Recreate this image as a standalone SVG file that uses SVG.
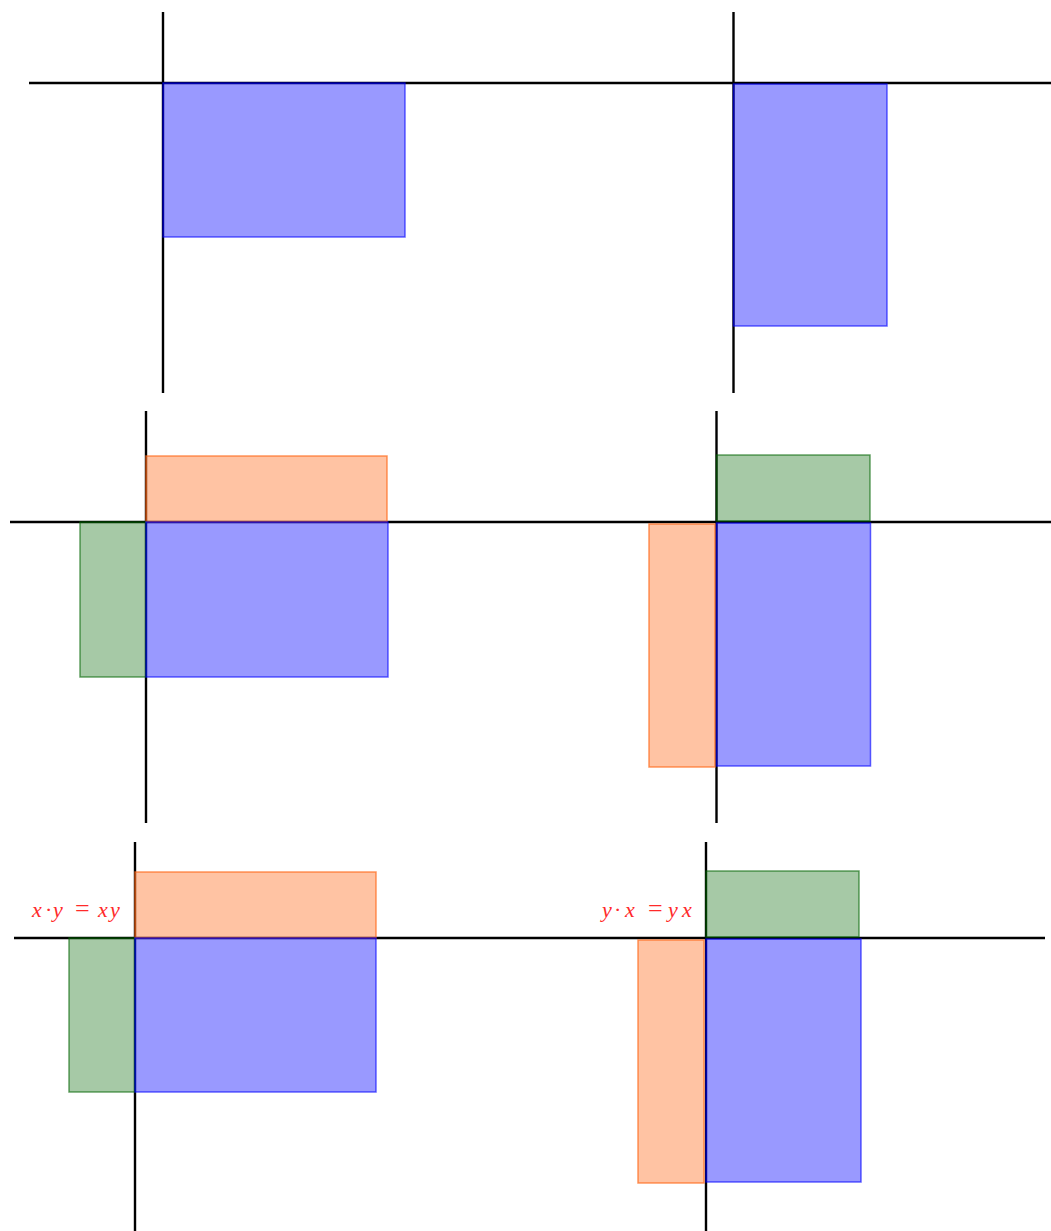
<svg xmlns="http://www.w3.org/2000/svg" width="1051" height="1231" viewBox="0 0 1051 1231">
<style>
.ax{stroke:#000;stroke-width:2.4;fill:none}
.b{fill:#0000ff;fill-opacity:0.4;stroke:#0000ff;stroke-opacity:0.6;stroke-width:1.5}
.g{fill:#006400;fill-opacity:0.35;stroke:#006400;stroke-opacity:0.6;stroke-width:1.5}
.o{fill:#ff6919;fill-opacity:0.4;stroke:#ff6919;stroke-opacity:0.7;stroke-width:1.5}
.lbl{font-family:"Liberation Serif","DejaVu Serif",serif;font-size:22px;fill:#ff2a2a;font-style:italic}
.up{font-style:normal}
</style>
<rect width="1051" height="1231" fill="#fff"/>
<g id="axes">
<line class="ax" x1="29" y1="83" x2="1051" y2="83"/>
<line class="ax" x1="163" y1="12" x2="163" y2="393"/>
<line class="ax" x1="733.5" y1="12" x2="733.5" y2="393"/>
<line class="ax" x1="10" y1="522" x2="1051" y2="522"/>
<line class="ax" x1="146" y1="411" x2="146" y2="823"/>
<line class="ax" x1="716.5" y1="411" x2="716.5" y2="823"/>
<line class="ax" x1="14" y1="938" x2="1045" y2="938"/>
<line class="ax" x1="135" y1="842" x2="135" y2="1231"/>
<line class="ax" x1="706" y1="842" x2="706" y2="1231"/>
</g>
<g id="panel1">
<rect class="b" x="163" y="83" width="242" height="154"/>
</g>
<g id="panel2">
<rect class="b" x="733.5" y="84" width="153.5" height="242"/>
</g>
<g id="panel3">
<rect class="o" x="146" y="456" width="241" height="66"/>
<rect class="g" x="80" y="522" width="66" height="155"/>
<rect class="b" x="146" y="522" width="242" height="155"/>
</g>
<g id="panel4">
<rect class="g" x="716.5" y="455" width="153.5" height="66"/>
<rect class="o" x="649" y="524" width="66" height="243"/>
<rect class="b" x="716.5" y="523" width="154" height="243"/>
</g>
<g id="panel5">
<rect class="o" x="135" y="872" width="241" height="66"/>
<rect class="g" x="69" y="938" width="66" height="154"/>
<rect class="b" x="135" y="938" width="241" height="154"/>
<text class="lbl" y="917"><tspan x="32">x</tspan><tspan class="up" x="45">·</tspan><tspan x="53">y</tspan><tspan class="up" x="75" font-size="26">=</tspan><tspan x="98">x</tspan><tspan x="110">y</tspan></text>
</g>
<g id="panel6">
<rect class="g" x="706" y="871" width="153" height="66"/>
<rect class="o" x="638" y="940" width="66" height="243"/>
<rect class="b" x="706" y="939" width="155" height="243"/>
<text class="lbl" y="917"><tspan x="602">y</tspan><tspan class="up" x="614">·</tspan><tspan x="625">x</tspan><tspan class="up" x="648" font-size="26">=</tspan><tspan x="668">y</tspan><tspan x="682">x</tspan></text>
</g>
</svg>
